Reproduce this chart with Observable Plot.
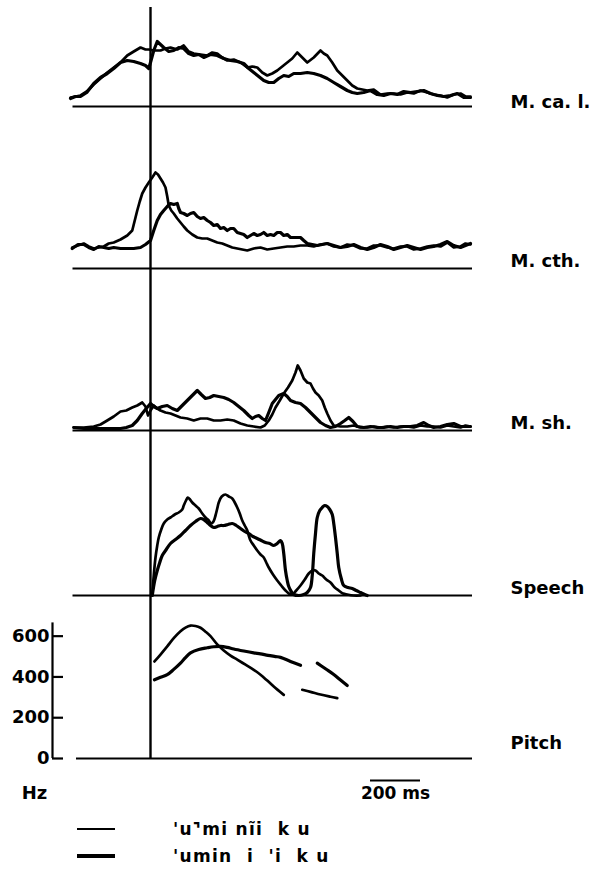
<!DOCTYPE html>
<html>
<head>
<meta charset="utf-8">
<script src="https://cdn.jsdelivr.net/npm/d3@7"></script>
<script src="https://cdn.jsdelivr.net/npm/@observablehq/plot@0.6"></script>
<style>
  body { margin: 0; background: #fff; }
  #chart { position: relative; width: 591px; height: 885px; background: #fff; overflow: hidden; font-family: "DejaVu Sans", sans-serif; }
  .panel { position: absolute; left: 0; }
  .leg { position: absolute; left: 0; width: 591px; height: 20px; }
  .leg .sw { position: absolute; left: 77px; width: 38px; background: #000; }
  .leg .tx { position: absolute; left: 173px; top: 0; font: bold 17px "DejaVu Sans", sans-serif; white-space: pre; letter-spacing: 1.3px; line-height: 20px; color: #000; }
</style>
</head>
<body>
<div id="chart"></div>
<script>
// ---------- DATA (time in ms relative to the vertical onset line) ----------
const seriesNames = ["'u⌝mi nĩi  k u", "'umin  i  'i  k u"];
const panelLabels = ["M. ca. l.", "M. cth.", "M. sh.", "Speech", "Pitch"];
const pitchTicks = [0, 200, 400, 600];
const pitchAxisTop = 665;          // Hz, top of the drawn axis line
const scaleBarMs = [880, 1080];    // 200 ms calibration bar
const xDomain = [-392, 1280];      // ms
const baselineSpan = [-310, 1288];
const pitchBaselineSpan = [-296, 1288];

// M. ca. l. (arbitrary EMG units)
const mcal1 = [[-320,9],[-300,10],[-280,11],[-255,15],[-227,22],[-200,28],[-173,34],[-147,39],[-120,44],[-93,51],[-67,55],[-40,59],[-20,57],[-7,57],[13,56],[40,56],[60,58],[80,59],[107,57],[133,61],[153,55],[173,53],[200,52],[227,51],[247,54],[267,53],[287,49],[307,46],[333,47],[360,44],[387,39],[407,40],[427,39],[447,34],[467,31],[487,33],[507,36],[527,40],[547,44],[567,48],[587,54],[607,49],[627,44],[653,49],[680,56],[693,53],[707,51],[727,44],[747,36],[767,31],[787,26],[807,21],[827,18],[847,17],[867,16],[893,17],[920,12],[947,13],[973,13],[1000,12],[1027,14],[1053,13],[1080,16],[1107,14],[1133,12],[1160,11],[1187,9],[1213,12],[1240,13],[1260,10],[1280,10]];
const mcal2 = [[-320,8],[-300,10],[-280,10],[-255,14],[-227,23],[-200,29],[-173,33],[-147,38],[-120,44],[-93,46],[-67,45],[-40,43],[-20,41],[-7,38],[0,44],[13,56],[27,65],[40,62],[53,59],[73,55],[93,56],[113,59],[133,58],[153,53],[173,51],[193,52],[213,49],[240,52],[267,51],[293,48],[320,46],[347,45],[373,43],[393,38],[413,34],[433,30],[453,26],[473,24],[493,24],[513,28],[533,31],[553,30],[573,33],[600,33],[627,34],[653,33],[680,31],[707,28],[733,24],[760,20],[787,16],[807,14],[827,13],[853,14],[880,16],[907,12],[933,11],[960,13],[987,12],[1013,15],[1040,14],[1067,15],[1093,16],[1120,13],[1147,11],[1173,10],[1200,11],[1227,13],[1253,9],[1280,9]];

// M. cth.
const mcth1 = [[-313,21],[-290,23],[-267,25],[-247,22],[-227,20],[-207,21],[-187,22],[-167,25],[-147,26],[-120,29],[-93,33],[-73,38],[-63,48],[-53,58],[-43,67],[-33,75],[-20,81],[-7,86],[7,91],[20,96],[30,94],[40,90],[50,86],[60,81],[67,72],[73,63],[83,58],[93,55],[107,50],[120,46],[133,42],[147,38],[167,34],[187,31],[207,30],[227,30],[247,28],[267,26],[287,25],[307,23],[327,21],[347,20],[367,19],[387,18],[413,20],[440,21],[467,19],[493,20],[520,21],[547,22],[573,22],[600,23],[627,23],[653,22],[680,24],[707,25],[733,22],[760,21],[787,24],[813,23],[840,20],[867,20],[893,23],[920,23],[947,21],[973,20],[1000,22],[1027,22],[1053,19],[1080,20],[1107,22],[1133,23],[1160,22],[1187,26],[1213,21],[1240,22],[1260,25],[1280,24]];
const mcth2 = [[-313,20],[-290,24],[-267,24],[-247,21],[-227,19],[-207,22],[-187,21],[-167,20],[-147,21],[-120,20],[-93,20],[-67,20],[-40,21],[-20,24],[0,28],[13,38],[27,48],[40,54],[53,58],[67,62],[80,65],[93,64],[107,65],[113,60],[120,56],[133,55],[147,53],[160,55],[173,56],[187,52],[200,50],[213,51],[227,48],[240,46],[253,43],[267,44],[280,40],[293,41],[307,38],[320,40],[333,40],[347,36],[360,35],[373,34],[387,31],[400,33],[413,35],[427,33],[440,34],[453,36],[467,33],[480,34],[493,33],[507,36],[520,36],[533,33],[547,34],[560,31],[580,31],[600,31],[613,28],[627,25],[647,24],[667,23],[687,24],[707,25],[733,23],[760,21],[787,22],[813,24],[840,21],[867,19],[893,21],[920,24],[947,22],[973,19],[1000,21],[1027,23],[1053,21],[1080,19],[1107,21],[1133,22],[1160,24],[1187,27],[1213,23],[1240,21],[1260,23],[1280,25]];

// M. sh.
const msh1 = [[-307,3],[-267,3],[-227,4],[-200,6],[-173,10],[-147,14],[-120,19],[-97,20],[-73,23],[-53,25],[-33,28],[-20,24],[-10,15],[0,20],[13,25],[27,22],[40,20],[60,18],[80,17],[100,15],[120,13],[147,12],[173,10],[200,12],[227,12],[253,10],[280,10],[307,11],[333,10],[360,7],[387,5],[413,4],[440,3],[457,5],[473,10],[487,16],[500,23],[517,30],[533,37],[550,43],[567,50],[580,58],[589,65],[600,60],[613,52],[627,48],[640,47],[650,42],[660,38],[673,35],[687,30],[697,23],[707,17],[720,10],[733,5],[760,4],[787,4],[813,5],[840,3],[867,3],[893,4],[920,3],[947,4],[973,3],[1000,4],[1027,4],[1053,3],[1080,5],[1107,4],[1133,4],[1160,3],[1187,5],[1213,4],[1240,3],[1260,5],[1280,4]];
const msh2 = [[-307,3],[-267,2],[-227,2],[-173,2],[-120,2],[-97,3],[-73,5],[-53,10],[-33,17],[-17,22],[0,27],[13,24],[27,22],[47,24],[67,25],[87,22],[107,20],[127,25],[147,30],[167,35],[187,40],[203,36],[220,32],[237,33],[253,35],[273,34],[293,33],[313,31],[333,28],[353,24],[373,20],[393,15],[407,12],[420,14],[433,15],[447,12],[460,10],[473,18],[487,27],[500,31],[513,35],[533,37],[547,34],[560,30],[580,28],[600,27],[620,23],[640,18],[660,13],[680,8],[700,5],[720,3],[740,4],[760,7],[777,10],[793,13],[810,9],[827,4],[853,3],[880,4],[907,3],[933,3],[960,4],[987,3],[1013,4],[1040,4],[1067,5],[1093,8],[1113,5],[1133,3],[1160,4],[1187,6],[1213,7],[1240,4],[1260,4],[1280,4]];

// Speech envelope
const speech1 = [[7,0],[13,20],[20,38],[27,50],[33,58],[43,66],[53,72],[67,76],[80,78],[97,81],[113,83],[127,86],[133,90],[142,95],[149,98],[158,96],[167,93],[180,90],[193,87],[207,82],[220,78],[233,75],[243,72],[252,74],[260,80],[267,87],[273,93],[285,99],[300,101],[313,99],[327,97],[337,93],[347,88],[357,82],[367,75],[377,70],[387,65],[393,60],[400,55],[413,50],[427,45],[440,41],[453,38],[463,33],[473,28],[490,21],[507,15],[523,10],[540,5],[553,2],[567,1],[583,5],[600,10],[617,16],[633,22],[647,25],[660,25],[673,22],[687,20],[703,16],[720,13],[737,8],[753,5],[770,2],[787,1],[813,0],[840,0]];
const speech2 = [[7,0],[17,15],[27,25],[37,33],[47,40],[63,46],[80,52],[100,56],[120,60],[140,65],[160,70],[180,74],[200,77],[213,76],[227,73],[240,70],[253,68],[267,69],[280,70],[293,70],[310,71],[327,72],[343,70],[360,67],[377,64],[393,62],[410,59],[427,57],[443,55],[460,53],[477,52],[493,50],[507,52],[520,55],[527,52],[533,42],[540,25],[547,15],[553,9],[563,4],[573,1],[593,0],[613,1],[627,3],[640,8],[647,20],[653,42],[660,62],[667,78],[677,85],[687,88],[697,90],[707,89],[717,86],[727,81],[733,72],[740,58],[747,42],[753,28],[763,17],[773,10],[790,8],[807,7],[823,5],[840,3],[857,1],[867,0]];

// Pitch (Hz); each series has two voiced stretches
const pitch1a = [[16,476],[40,510],[67,550],[93,590],[120,624],[140,642],[160,652],[180,650],[200,641],[220,622],[240,600],[267,560],[293,530],[320,505],[347,485],[380,460],[413,435],[440,411],[467,382],[493,353],[533,312]];
const pitch1b = [[607,337],[640,327],[680,314],[720,303],[747,296]];
const pitch2a = [[16,386],[40,398],[67,411],[93,437],[120,468],[140,495],[160,518],[193,535],[227,543],[253,548],[280,550],[307,545],[333,537],[373,527],[413,518],[440,513],[470,506],[500,500],[520,496],[560,476],[600,457]];
const pitch2b = [[667,468],[700,440],[733,412],[760,385],[787,358]];

// ---------- RENDERING ----------
const rows = segs => segs.flatMap((seg, k) => seg.map(([t, v]) => ({t, v, seg: k})));
const W = 591, ML = 52, MR = 121;
const style = {background: "transparent", overflow: "visible", fontFamily: "'DejaVu Sans', sans-serif", fontSize: "18px", fontWeight: "bold", color: "#000"};
const widths = [2.7, 3.2];

const panels = [
  {label: panelLabels[0], series: [[mcal1], [mcal2]], top: 0,   height: 112, mt: 7, mb: 6, ymax: 99,  curve: "linear", labelDy: 1},
  {label: panelLabels[1], series: [[mcth1], [mcth2]], top: 112, height: 162, mt: 0, mb: 6, ymax: 156, curve: "linear", labelDy: -2},
  {label: panelLabels[2], series: [[msh1], [msh2]],   top: 274, height: 162, mt: 0, mb: 6, ymax: 156, curve: "linear", labelDy: -2},
  {label: panelLabels[3], series: [[speech1], [speech2]], top: 436, height: 165, mt: 0, mb: 6, ymax: 159, curve: "catmull-rom", labelDy: -2},
];

const chart = document.getElementById("chart");
function place(svg, top) {
  const d = document.createElement("div");
  d.className = "panel";
  d.style.top = top + "px";
  d.appendChild(svg);
  chart.appendChild(d);
}

for (const p of panels) {
  const marks = [
    Plot.ruleY([0], {x1: baselineSpan[0], x2: baselineSpan[1], strokeWidth: 2.2}),
    Plot.ruleX([0], {strokeWidth: 2.4, insetBottom: -p.mb}),
    ...p.series.map((s, i) => Plot.line(rows(s), {x: "t", y: "v", z: "seg", curve: p.curve, strokeWidth: widths[i], strokeLinejoin: "round", strokeLinecap: "round"})),
    Plot.text([p.label], {frameAnchor: "bottom-right", dx: 40, dy: p.labelDy, textAnchor: "start", lineAnchor: "bottom"})
  ];
  place(Plot.plot({
    width: W, height: p.height, marginLeft: ML, marginRight: MR, marginTop: p.mt, marginBottom: p.mb,
    x: {domain: xDomain, axis: null}, y: {domain: [0, p.ymax], axis: null}, style, marks
  }), p.top);
}

// Pitch panel with Hz axis and time calibration bar
const pitchSeries = [[pitch1a, pitch1b], [pitch2a, pitch2b]];
place(Plot.plot({
  width: W, height: 201, marginLeft: ML, marginRight: MR, marginTop: 0, marginBottom: 44,
  x: {domain: xDomain, axis: null}, y: {domain: [0, 770], axis: null}, style,
  marks: [
    Plot.ruleY([0], {x1: pitchBaselineSpan[0], x2: pitchBaselineSpan[1], strokeWidth: 2.2}),
    Plot.ruleX([xDomain[0]], {y1: 0, y2: pitchAxisTop, strokeWidth: 2.2}),
    Plot.ruleY(pitchTicks, {y: d => d, x1: xDomain[0], x2: xDomain[0] + 44, strokeWidth: 2.2}),
    Plot.text(pitchTicks, {frameAnchor: "left", y: d => d, text: d => String(d), textAnchor: "end", dx: -3, lineAnchor: "middle"}),
    Plot.ruleX([0], {strokeWidth: 2.4}),
    ...pitchSeries.map((s, i) => Plot.line(rows(s), {x: "t", y: "v", z: "seg", curve: "catmull-rom", strokeWidth: widths[i], strokeLinecap: "round"})),
    Plot.text([panelLabels[4]], {frameAnchor: "bottom-right", dx: 40, dy: -10, textAnchor: "start", lineAnchor: "bottom"}),
    Plot.text(["Hz"], {frameAnchor: "bottom-left", dx: -18, dy: 40, textAnchor: "middle", lineAnchor: "bottom"}),
    Plot.ruleY([scaleBarMs], {x1: d => d[0], x2: d => d[1], y: () => 0, dy: 22, strokeWidth: 2}),
    Plot.text([scaleBarMs], {x: d => (d[0] + d[1]) / 2, frameAnchor: "bottom", dy: 40, text: d => `${d[1] - d[0]} ms`, textAnchor: "middle", lineAnchor: "bottom", fontSize: 17})
  ]
}), 601);

// Legend
const legendTops = [819, 846];
seriesNames.forEach((name, i) => {
  const d = document.createElement("div");
  d.className = "leg";
  d.style.top = legendTops[i] + "px";
  const sw = document.createElement("div");
  sw.className = "sw";
  sw.style.height = widths[i] + "px";
  sw.style.top = (10 - widths[i] / 2) + "px";
  const tx = document.createElement("div");
  tx.className = "tx";
  tx.textContent = name;
  d.appendChild(sw); d.appendChild(tx);
  chart.appendChild(d);
});
</script>
</body>
</html>
